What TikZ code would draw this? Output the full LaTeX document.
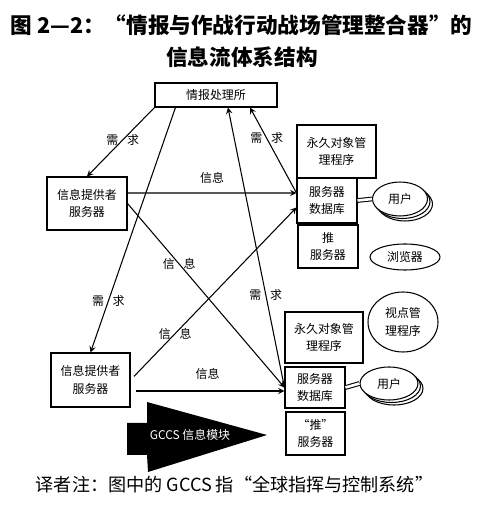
\documentclass[tikz,border=0pt]{standalone}
\usepackage{fontspec}
\setmainfont{Noto Sans CJK SC}
\usetikzlibrary{shapes.geometric}

\tikzset{
  sbox/.style={draw, semithick, align=center, inner sep=1pt, font=\fontsize{6.8}{10}\selectfont},
  oval/.style={draw, semithick, ellipse, align=center, inner sep=0pt, fill=white, font=\fontsize{6.8}{10}\selectfont},
  lbl/.style={font=\fontsize{6.8}{10}\selectfont}
}

\begin{document}
\begin{tikzpicture}[>=stealth, semithick]
		\useasboundingbox (0,0) rectangle (10,10.3);
		\node[font=\fontsize{12.3}{14}\selectfont\bfseries] (title1) at (4.83,9.80) {图 2—2：“情报与作战行动战场管理整合器”的};
		\node[font=\fontsize{12.3}{14}\selectfont\bfseries] (title2) at (4.84,9.16) {信息流体系结构};
		\node[sbox, minimum width=2.44cm, minimum height=0.48cm] (info) at (4.32,8.40) {情报处理所};
		\node[sbox, minimum width=1.6cm, minimum height=1.06cm] (prov1) at (1.74,6.23) {信息提供者\\服务器};
		\node[sbox, minimum width=1.58cm, minimum height=1.08cm] (prov2) at (1.81,2.70) {信息提供者\\服务器};
		\node[sbox, minimum width=1.58cm, minimum height=1.06cm] (pom1) at (6.73,7.27) {永久对象管\\理程序};
		\node[sbox, minimum width=1.2cm, minimum height=0.9cm] (db1) at (6.54,6.29) {服务器\\数据库};
		\node[sbox, minimum width=1.2cm, minimum height=0.86cm] (push1) at (6.56,5.37) {推\\服务器};
		\node[oval, minimum width=1.1cm, minimum height=0.68cm] (user1c) at (8.10,6.22) {};
		\node[oval, minimum width=1.1cm, minimum height=0.68cm] (user1b) at (8.05,6.27) {};
		\node[oval, minimum width=1.1cm, minimum height=0.68cm] (user1) at (8.00,6.32) {用户};
		\node[oval, minimum width=1.4cm, minimum height=0.52cm] (browser) at (8.10,5.16) {浏览器};
		\node[oval, minimum width=1.4cm, minimum height=1.2cm] (view) at (8.06,3.86) {视点管\\理程序};
		\node[sbox, minimum width=1.56cm, minimum height=1.02cm] (pom2) at (6.48,3.55) {永久对象管\\理程序};
		\node[sbox, minimum width=1.2cm, minimum height=0.82cm] (db2) at (6.30,2.55) {服务器\\数据库};
		\node[sbox, minimum width=1.18cm, minimum height=0.86cm] (push2) at (6.31,1.63) {“推”\\服务器};
		\node[oval, minimum width=1.16cm, minimum height=0.66cm] (user2c) at (7.88,2.53) {};
		\node[oval, minimum width=1.16cm, minimum height=0.66cm] (user2b) at (7.83,2.58) {};
		\node[oval, minimum width=1.16cm, minimum height=0.66cm] (user2) at (7.78,2.63) {用户};
		\coordinate (reqa) at ([xshift=0.42cm]info.south west);
		\coordinate (reqb) at ([xshift=0.24cm]info.south);
		\coordinate (reqc) at ([xshift=0.68cm]info.south);
		\draw[->] (info.south west) -- (prov1.north) node[lbl, pos=0.47]{需\hspace{5pt}求};
		\draw[->] (reqa) -- (prov2.north) node[lbl, pos=0.79]{需\hspace{5pt}求};
		\draw[->] ([yshift=0.21cm]prov1.east) -- ([yshift=0.15cm]db1.west) node[lbl, midway, above=2pt]{信息};
		\draw[->] (prov1.east) -- (db2.west) node[lbl, pos=0.33]{信\hspace{5pt}息};
		\draw[->, shorten <=0.1cm] (prov2.east) -- ([yshift=-0.14cm]db1.west) node[lbl, pos=0.27]{信\hspace{5pt}息};
		\draw[->, shorten <=0.1cm] ([yshift=-0.22cm]prov2.east) -- ([yshift=-0.07cm]db2.west) node[lbl, midway, above=3pt]{信息};
		\draw[->] (db2.west) -- (reqb) node[lbl, pos=0.33]{需\hspace{5pt}求};
		\draw[->] ([yshift=0.15cm]db1.west) -- (reqc) node[lbl, pos=0.64]{需\hspace{5pt}求};
		\draw[double, double distance=1.5pt] (db1.east) -- (user1.west);
		\draw[double, double distance=1.5pt] (db2.east) -- (user2.west);
		\fill (2.54,1.84) -- (2.94,1.84) -- (2.94,2.26) -- (5.34,1.60) -- (2.96,0.86) -- (2.94,1.20) -- (2.54,1.20) -- cycle;
		\node[text=white, font=\fontsize{6.8}{10}\selectfont] (gccs) at (3.80,1.60) {GCCS 信息模块};
		\node[font=\fontsize{10.3}{12}\selectfont] (note) at (4.69,0.60) {译者注：图中的 GCCS 指“全球指挥与控制系统”};
		\end{tikzpicture}
\end{document}
